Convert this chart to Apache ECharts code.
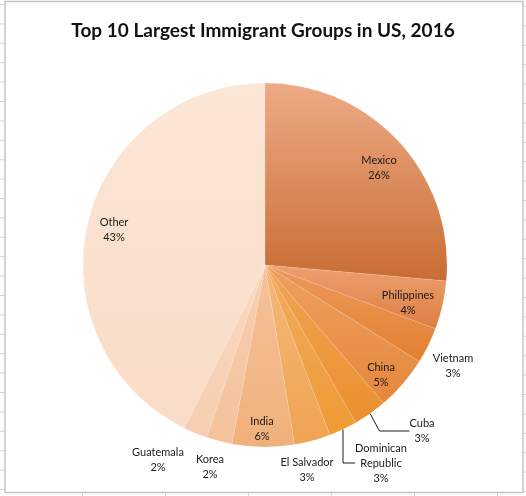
<!DOCTYPE html>
<html>
<head>
<meta charset="utf-8" />
<title>Top 10 Largest Immigrant Groups in US, 2016</title>
<script src="https://cdn.jsdelivr.net/npm/echarts@6/dist/echarts.min.js"></script>
<style>
  html, body { margin: 0; padding: 0; background: #fff; }
</style>
</head>
<body>
<div id="main" style="width: 526px;height:496px;"></div>
<script type="text/javascript">
// data (share of all immigrants, %), clockwise from 12 o'clock
var groups = ['Mexico', 'Philippines', 'Vietnam', 'China', 'Cuba', 'Dominican Republic',
  'El Salvador', 'India', 'Korea', 'Guatemala', 'Other'];
var shares = [26.4, 4.3, 3.2, 4.8, 3.0, 2.5, 3.2, 5.5, 2.3, 2.1, 42.7];

// slice fill: light at top, darker at bottom (excel style gradient)
var topColors = ['#eeab86', '#eea070', '#ec9a5c', '#eea062', '#f0a555', '#f2ad5e',
  '#f4b878', '#f5c39c', '#f7d0b2', '#f9dac4', '#fce6d6'];
var bottomColors = ['#c86d33', '#dc7e42', '#e3802f', '#e5873a', '#eb8f2e', '#ee9a35',
  '#f0a452', '#f1b07a', '#f4c19c', '#f6cdb0', '#f9dcc7'];

// where excel put each label (centre of the text block)
var labelPos = [[379, 168], [408, 303], [453, 366], [381, 375], [422, 431], [381, 463],
  [307, 470], [262, 429], [210, 467], [158, 460], [114, 230]];
// labels that have a leader line
var withLine = ['Cuba', 'Dominican Republic'];

var dom = document.getElementById('main');
var myChart = echarts.init(dom);

var pieData = groups.map(function (g, i) {
  return {
    name: g,
    value: shares[i],
    itemStyle: {
      color: {
        type: 'linear', x: 0, y: 0, x2: 0, y2: 1,
        colorStops: [{ offset: 0, color: topColors[i] }, { offset: 1, color: bottomColors[i] }]
      }
    },
    labelLine: { show: withLine.indexOf(g) >= 0 }
  };
});

// spreadsheet gridlines peeking out round the chart frame
var deco = [];
for (var k = 0; k < 26; k++) {
  deco.push({ type: 'line', silent: true, shape: { x1: 0, y1: 4.5 + k * 19.4, x2: 5, y2: 4.5 + k * 19.4 },
    style: { stroke: '#d6d6d6', lineWidth: 1 } });
  deco.push({ type: 'line', silent: true, shape: { x1: 523, y1: 6.5 + k * 19.4, x2: 526, y2: 6.5 + k * 19.4 },
    style: { stroke: '#d6d6d6', lineWidth: 1 } });
}
for (var c = 1; c < 7; c++) {
  deco.push({ type: 'line', silent: true, shape: { x1: c * 83 - 0.5, y1: 493, x2: c * 83 - 0.5, y2: 496 },
    style: { stroke: '#d6d6d6', lineWidth: 1 } });
}
deco.push({ type: 'rect', silent: true, shape: { x: 5, y: 1.5, width: 518, height: 491 },
  style: { fill: null, stroke: '#c4c4c4', lineWidth: 1.5 } });

var option = {
  backgroundColor: '#fff',
  animation: false,
  title: {
    text: 'Top 10 Largest Immigrant Groups in US, 2016',
    left: 'center',
    top: 16,
    textStyle: { fontFamily: 'Lato', fontWeight: 'bold', fontSize: 19, color: '#111' }
  },
  graphic: deco,
  series: [{
    type: 'pie',
    center: [265, 265],
    radius: [0, 182],
    startAngle: 90,
    clockwise: true,
    avoidLabelOverlap: false,
    data: pieData,
    itemStyle: { borderColor: 'rgba(255,255,255,0.18)', borderWidth: 0.6 },
    label: {
      show: true,
      position: 'outside',
      fontFamily: 'Lato',
      fontSize: 11,
      lineHeight: 15,
      color: '#1a1a1a',
      align: 'center',
      formatter: function (p) {
        var n = p.name.length > 12 ? p.name.replace(' ', '\n') : p.name;
        return n + '\n' + Math.round(p.percent) + '%';
      }
    },
    labelLine: { show: false, lineStyle: { color: '#1e1e1e', width: 1 } },
    labelLayout: function (params) {
      var p = labelPos[params.dataIndex];
      return { x: p[0], y: p[1], align: 'center', verticalAlign: 'middle' };
    },
    emphasis: { disabled: true }
  }]
};
myChart.setOption(option);
</script>
</body>
</html>
